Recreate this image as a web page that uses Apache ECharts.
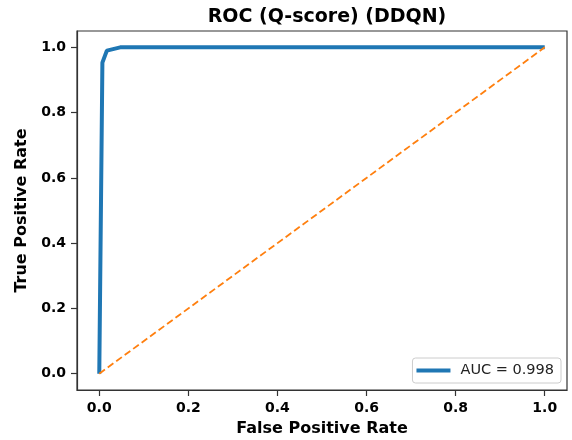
<!DOCTYPE html>
<html>
<head>
<meta charset="utf-8">
<script src="https://cdn.jsdelivr.net/npm/echarts@6/dist/echarts.min.js"></script>
<style>
  html, body { margin: 0; padding: 0; background: #fff; }
  #chart { width: 572px; height: 440px; }
</style>
</head>
<body>
<div id="chart"></div>
<script>
// ROC curve points (false positive rate, true positive rate)
const fpr = [0, 0.007, 0.017, 0.047, 1.0];
const tpr = [0, 0.953, 0.99, 1.0, 1.0];
// chance diagonal
const diagX = [0, 1];
const diagY = [0, 1];
const tickLabels = ['0.0', '0.2', '0.4', '0.6', '0.8', '1.0'];
const aucLabel = 'AUC = 0.998';

const font = 'DejaVu Sans';
const chart = echarts.init(document.getElementById('chart'));

const tickFmt = (v) => {
  const i = Math.round(v / 0.2);
  if (Math.abs(v - i * 0.2) < 1e-6 && i >= 0 && i < tickLabels.length) return tickLabels[i];
  return '';
};

const axisCommon = {
  min: -0.05,
  max: 1.05,
  splitLine: { show: false },
  axisLine: { onZero: false, lineStyle: { color: '#333', width: 1.2 } },
  axisTick: { inside: false, length: 6, lineStyle: { color: '#333', width: 1.2 },
    customValues: [0, 0.2, 0.4, 0.6, 0.8, 1.0] },
  axisLabel: { fontFamily: font, fontWeight: 'bold', fontSize: 14, color: '#000', margin: 11,
    customValues: [0, 0.2, 0.4, 0.6, 0.8, 1.0], formatter: tickFmt },
  nameLocation: 'middle',
  nameTextStyle: { fontFamily: font, fontWeight: 'bold', fontSize: 16, color: '#000' }
};

const options = {
  animation: false,
  title: {
    text: 'ROC (Q-score) (DDQN)',
    left: 322, top: 3, textAlign: 'center',
    textStyle: { fontFamily: font, fontWeight: 'bold', fontSize: 19, color: '#000' }
  },
  grid: { left: 77, right: 5, top: 31, bottom: 50, outerBoundsMode: 'none',
    show: true, borderColor: '#333', borderWidth: 1.2 },
  xAxis: Object.assign({}, axisCommon, { type: 'value', name: 'False Positive Rate', nameGap: 31 }),
  yAxis: Object.assign({}, axisCommon, { type: 'value', name: 'True Positive Rate', nameGap: 42 }),
  legend: {
    right: 11, bottom: 57,
    orient: 'vertical',
    backgroundColor: '#fff',
    borderColor: '#ccc', borderWidth: 1, borderRadius: 3,
    padding: [5, 7, 5, 4],
    icon: 'rect', itemWidth: 34, itemHeight: 4, itemGap: 8,
    textStyle: { fontFamily: font, fontSize: 14.5, color: '#222', padding: [0, 0, 0, 5] },
    data: [aucLabel]
  },
  series: [
    {
      name: aucLabel,
      type: 'line',
      data: fpr.map((x, i) => [x, tpr[i]]),
      symbol: 'none',
      lineStyle: { color: '#1f77b4', width: 4 },
      itemStyle: { color: '#1f77b4' },
      z: 3
    },
    {
      name: 'chance',
      type: 'line',
      data: diagX.map((x, i) => [x, diagY[i]]),
      symbol: 'none',
      lineStyle: { color: '#ff7f0e', width: 1.8, type: [7, 3.5] },
      itemStyle: { color: '#ff7f0e' },
      z: 4
    }
  ]
};

chart.setOption(options);
</script>
</body>
</html>
